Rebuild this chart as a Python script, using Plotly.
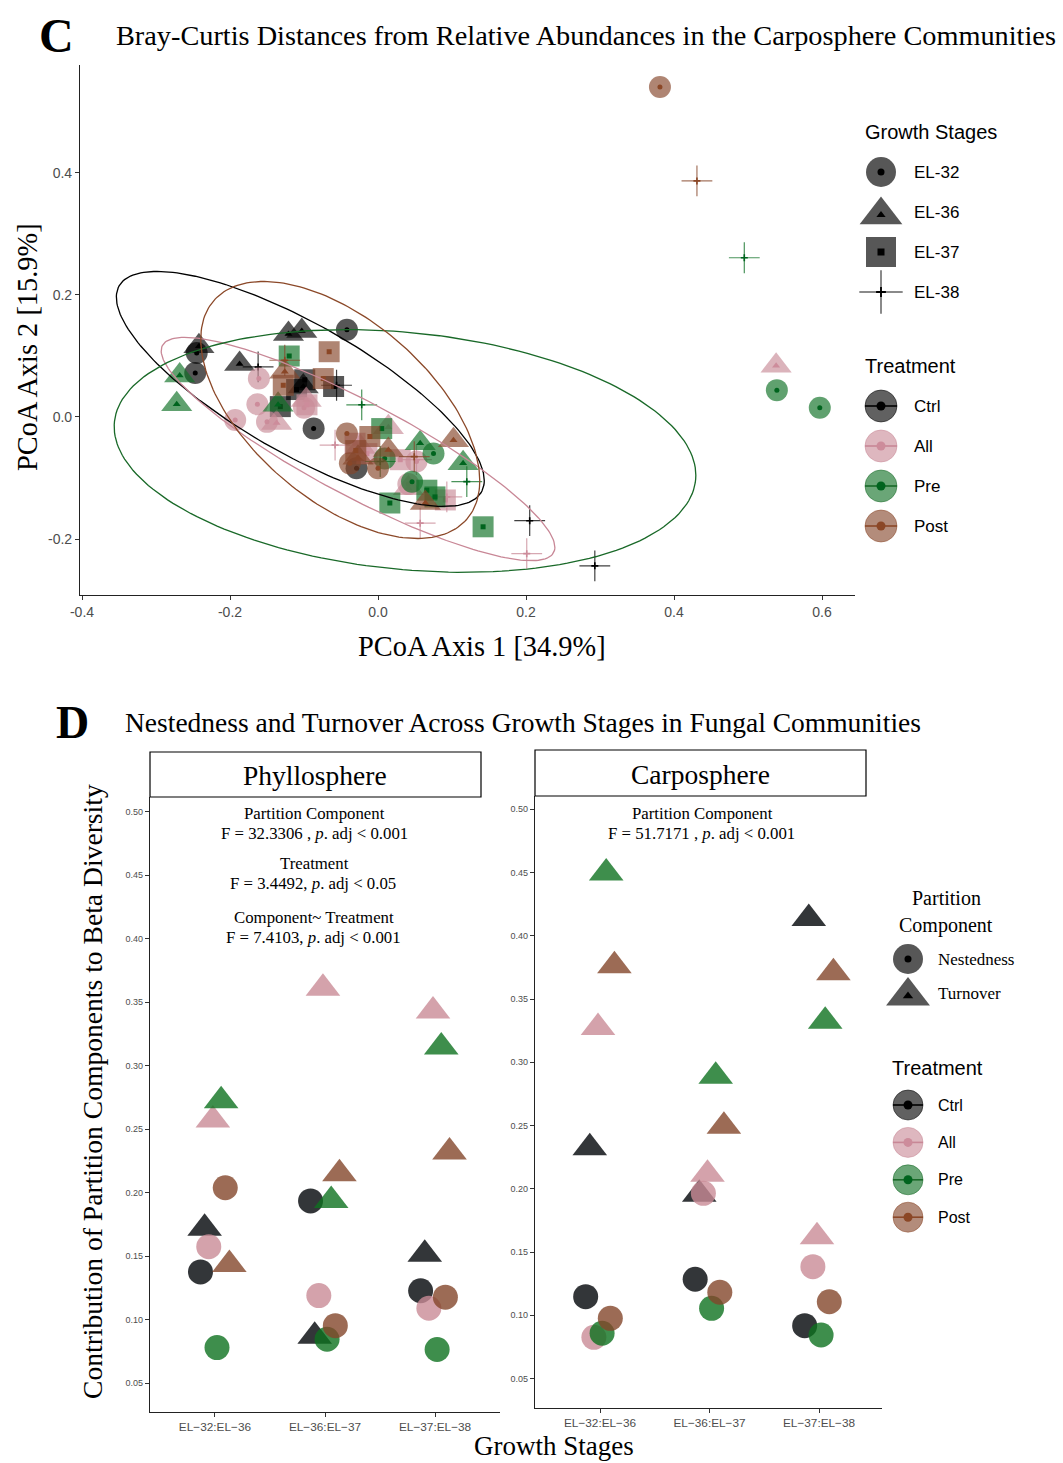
import numpy as np
import plotly.graph_objects as go

W, H = 1063, 1463
SERIF = "Liberation Serif, Times New Roman, serif"
SANS = "Liberation Sans, Arial, Helvetica, sans-serif"

treatments = ["Ctrl", "All", "Pre", "Post"]
stages = ["EL-32", "EL-36", "EL-37", "EL-38"]

# ---------------- Panel C: PCoA scores ----------------
ctrl_stage = ["EL-32"] * 5 + ["EL-36"] * 5 + ["EL-37"] * 4 + ["EL-38"] * 4
ctrl_pc1 = [-0.245, -0.247, -0.042, -0.087, -0.029,
            -0.242, -0.187, -0.121, -0.103, -0.101,
            -0.099, -0.132, -0.060, -0.110,
            -0.162, -0.056, 0.205, 0.293]
ctrl_pc2 = [0.105, 0.072, 0.143, -0.019, -0.084,
            0.116, 0.087, 0.136, 0.141, 0.050,
            0.061, 0.017, 0.050, 0.045,
            0.082, 0.052, -0.170, -0.244]

all_stage = ["EL-32"] * 7 + ["EL-36"] * 6 + ["EL-37"] * 5 + ["EL-38"] * 5
all_pc1 = [-0.161, -0.163, -0.193, -0.150, 0.052, -0.100, 0.041,
           0.538, -0.097, -0.137, 0.014, -0.024, 0.041,
           -0.096, -0.031, 0.030, 0.091, -0.015,
           -0.058, 0.052, 0.093, 0.057, 0.201]
all_pc2 = [0.063, 0.021, -0.005, -0.008, -0.073, 0.015, -0.110,
           0.084, 0.028, -0.010, -0.017, -0.049, -0.117,
           0.020, -0.043, -0.070, -0.136, -0.060,
           -0.046, -0.070, -0.131, -0.174, -0.224]

pre_stage = ["EL-32"] * 5 + ["EL-36"] * 5 + ["EL-37"] * 6 + ["EL-38"] * 4
pre_pc1 = [0.539, 0.597, 0.009, 0.075, 0.046,
           -0.268, -0.272, -0.135, 0.057, 0.115,
           -0.120, 0.005, 0.066, 0.077, 0.016, 0.142,
           0.495, -0.022, 0.003, 0.120]
pre_pc2 = [0.044, 0.015, -0.068, -0.060, -0.106,
           0.068, 0.021, 0.020, -0.043, -0.076,
           0.100, -0.019, -0.120, -0.131, -0.141, -0.180,
           0.261, 0.020, -0.073, -0.106]

post_stage = ["EL-32"] * 4 + ["EL-36"] * 5 + ["EL-37"] * 5 + ["EL-38"] * 3
post_pc1 = [0.381, -0.042, -0.038, 0.000,
            -0.126, -0.027, 0.014, 0.102, 0.064,
            -0.066, -0.128, -0.074, -0.011, -0.030,
            0.431, -0.126, 0.049]
post_pc2 = [0.541, -0.027, -0.076, -0.084,
            0.074, -0.067, -0.054, -0.038, -0.141,
            0.107, 0.052, 0.063, -0.032, -0.055,
            0.387, 0.093, -0.065]

# 95% ellipse parameters per treatment (Ctrl, All, Pre, Post)
ell_cx = [-0.105, -0.027, 0.0365, -0.051]
ell_cy = [0.046, -0.0525, -0.0557, 0.0115]
ell_sx = [0.2486, 0.266, 0.393, 0.1885]
ell_sy = [0.1926, 0.183, 0.199, 0.2107]
ell_rho = [-0.78, -0.88, -0.20, -0.55]

pc_xticks = [-0.4, -0.2, 0.0, 0.2, 0.4, 0.6]
pc_yticks = [-0.2, 0.0, 0.2, 0.4]

# ---------------- Panel D: partition components ----------------
comparisons = ["EL\u221232:EL\u221236", "EL\u221236:EL\u221237", "EL\u221237:EL\u221238"]
components = ["Nestedness", "Turnover"]

phy_nest_ctrl = [0.1376, 0.1935, 0.1228]
phy_nest_all = [0.1575, 0.119, 0.109]
phy_nest_pre = [0.078, 0.0846, 0.0765]
phy_nest_post = [0.2039, 0.0953, 0.1177]
phy_turn_ctrl = [0.172, 0.087, 0.1515]
phy_turn_all = [0.2572, 0.361, 0.343]
phy_turn_pre = [0.2725, 0.1938, 0.3147]
phy_turn_post = [0.1434, 0.215, 0.232]

car_nest_ctrl = [0.1147, 0.1285, 0.0918]
car_nest_all = [0.0826, 0.1964, 0.1384]
car_nest_pre = [0.0858, 0.1055, 0.0844]
car_nest_post = [0.0976, 0.1182, 0.1107]
car_turn_ctrl = [0.2325, 0.1957, 0.4136]
car_turn_all = [0.3274, 0.2115, 0.162]
car_turn_pre = [0.4497, 0.289, 0.3325]
car_turn_post = [0.3763, 0.2495, 0.3707]

d_yticks = [0.05, 0.10, 0.15, 0.20, 0.25, 0.30, 0.35, 0.40, 0.45, 0.50]

# ---------------- styles ----------------
base_rgb = {"Ctrl": (0, 0, 0), "All": (201, 139, 152), "Pre": (14, 112, 36), "Post": (133, 70, 42)}
dot_rgb = {"Ctrl": (0, 0, 0), "All": (205, 140, 155), "Pre": (0, 100, 30), "Post": (139, 71, 38)}
ell_rgb = {"Ctrl": (0, 0, 0), "All": (200, 135, 150), "Pre": (25, 105, 40), "Post": (139, 72, 40)}


def rgba(c, a):
    return "rgba(%d,%d,%d,%.3f)" % (c[0], c[1], c[2], a)


stage_sym = {"EL-32": "circle", "EL-36": "triangle-up", "EL-37": "square", "EL-38": "cross-thin"}
stage_size = {"EL-32": 22, "EL-36": 27, "EL-37": 21, "EL-38": 22}
stage_dot = {"EL-32": 5, "EL-36": 7, "EL-37": 5, "EL-38": 5}

fig = go.Figure()

top_data = {
    "Ctrl": (ctrl_pc1, ctrl_pc2, ctrl_stage),
    "All": (all_pc1, all_pc2, all_stage),
    "Pre": (pre_pc1, pre_pc2, pre_stage),
    "Post": (post_pc1, post_pc2, post_stage),
}

for t in treatments:
    xs, ys, st = top_data[t]
    for s in stages:
        idx = [i for i, v in enumerate(st) if v == s]
        if not idx:
            continue
        px = [xs[i] for i in idx]
        py = [ys[i] for i in idx]
        a = 0.66
        if s == "EL-38":
            mk = dict(symbol="cross-thin", size=stage_size[s],
                      line=dict(color=rgba(base_rgb[t], 0.75), width=1.2))
            mk2 = dict(symbol="cross-thin", size=5, line=dict(color=rgba(dot_rgb[t], 1), width=1.6))
        else:
            mk = dict(symbol=stage_sym[s], size=stage_size[s], color=rgba(base_rgb[t], a), line=dict(width=0))
            mk2 = dict(symbol=stage_sym[s], size=stage_dot[s], color=rgba(dot_rgb[t], 1), line=dict(width=0))
        fig.add_trace(go.Scatter(x=px, y=py, mode="markers", marker=mk, xaxis="x", yaxis="y",
                                 showlegend=False, hoverinfo="skip"))
        fig.add_trace(go.Scatter(x=px, y=py, mode="markers", marker=mk2, xaxis="x", yaxis="y",
                                 showlegend=False, hoverinfo="skip"))

tt = np.linspace(0, 2 * np.pi, 200)
for k, t in enumerate(treatments):
    ex = ell_cx[k] + ell_sx[k] * np.cos(tt)
    ey = ell_cy[k] + ell_sy[k] * (ell_rho[k] * np.cos(tt) + np.sqrt(1 - ell_rho[k] ** 2) * np.sin(tt))
    fig.add_trace(go.Scatter(x=ex, y=ey, mode="lines", line=dict(color=rgba(ell_rgb[t], 1), width=1.3),
                             xaxis="x", yaxis="y", showlegend=False, hoverinfo="skip"))

# ---------------- panel D traces ----------------
d_color = {"Ctrl": (0, 4, 8), "All": (201, 139, 150), "Pre": (14, 114, 31), "Post": (131, 70, 42)}
panels = [
    ("x2", "y2", {"Nestedness": [phy_nest_ctrl, phy_nest_all, phy_nest_pre, phy_nest_post],
                  "Turnover": [phy_turn_ctrl, phy_turn_all, phy_turn_pre, phy_turn_post]}),
    ("x3", "y3", {"Nestedness": [car_nest_ctrl, car_nest_all, car_nest_pre, car_nest_post],
                  "Turnover": [car_turn_ctrl, car_turn_all, car_turn_pre, car_turn_post]}),
]
dodge = 0.0375
for xa, ya, vals in panels:
    for ti, t in enumerate(treatments):
        for ci, comp in enumerate(components):
            g = ti * 2 + ci
            xs = [j + 1 + (g - 3.5) * dodge for j in range(len(comparisons))]
            sym = "circle" if comp == "Nestedness" else "triangle-up"
            size = 25 if comp == "Nestedness" else 30
            fig.add_trace(go.Scatter(x=xs, y=vals[comp][ti], mode="markers", xaxis=xa, yaxis=ya,
                                     marker=dict(symbol=sym, size=size, color=rgba(d_color[t], 0.8),
                                                 line=dict(width=0)),
                                     showlegend=False, hoverinfo="skip"))

# ---------------- legend keys (overlay pixel axis) ----------------
def key_marker(x, y, sym, size, color, line=None):
    mk = dict(symbol=sym, size=size, color=color, line=line or dict(width=0))
    fig.add_trace(go.Scatter(x=[x], y=[y], mode="markers", marker=mk, xaxis="x4", yaxis="y4",
                             showlegend=False, hoverinfo="skip"))


def key_line(x0, x1, y, color, width):
    fig.add_trace(go.Scatter(x=[x0, x1], y=[y, y], mode="lines", line=dict(color=color, width=width),
                             xaxis="x4", yaxis="y4", showlegend=False, hoverinfo="skip"))


annots = []


def text(x, y, s, size, font=SANS, color="black", xanchor="left", angle=0, yanchor="middle"):
    annots.append(dict(x=x, y=y, xref="x4", yref="y4", text=s, showarrow=False, xanchor=xanchor,
                       yanchor=yanchor, textangle=angle, font=dict(family=font, size=size, color=color)))


gray_key = rgba((0, 0, 0), 0.66)
# top legend: growth stages
kx, y0, dy = 881, 172, 40
text(863, 132, "Growth Stages", 20)
key_sizes = {"EL-32": 30, "EL-36": 37, "EL-37": 30, "EL-38": 31}
for i, s in enumerate(stages):
    yy = y0 + i * dy
    if s == "EL-38":
        key_marker(kx, yy, "cross-thin", key_sizes[s], None, dict(color="rgba(60,60,60,0.8)", width=1.5))
        key_marker(kx, yy, "cross-thin", 7, None, dict(color="black", width=1.8))
    else:
        key_marker(kx, yy + (3 if s == "EL-36" else 0), stage_sym[s], key_sizes[s], gray_key)
        key_marker(kx, yy + (3 if s == "EL-36" else 0), stage_sym[s], 8 if s == "EL-36" else 7, "black")
    text(912, yy, s, 17)

# top legend: treatment
y1 = 406
text(863, 366, "Treatment", 20)
for i, t in enumerate(treatments):
    yy = y1 + i * dy
    key_marker(kx, yy, "circle", 32, rgba(base_rgb[t], 0.62), dict(color=rgba(ell_rgb[t], 0.5), width=1))
    key_line(kx - 16, kx + 16, yy, rgba(ell_rgb[t], 1), 1.6)
    key_marker(kx, yy, "circle", 9, rgba(dot_rgb[t], 1))
    text(912, yy, t, 17)

# bottom legend: partition component
bkx = 908
text(946, 898, "Partition", 20, SERIF, xanchor="center")
text(946, 925, "Component", 20, SERIF, xanchor="center")
for i, c in enumerate(components):
    yy = 959 + i * 34
    sym = "circle" if c == "Nestedness" else "triangle-up"
    key_marker(bkx, yy + (3 if c == "Turnover" else 0), sym, 30 if c == "Nestedness" else 38, gray_key)
    key_marker(bkx, yy + (3 if c == "Turnover" else 0), sym, 7 if c == "Nestedness" else 9, "black")
    text(936, yy, c, 17, SERIF)

text(890, 1068, "Treatment", 20)
for i, t in enumerate(treatments):
    yy = 1105 + i * 37.4
    key_marker(bkx, yy, "circle", 30, rgba(base_rgb[t], 0.62), dict(color=rgba(ell_rgb[t], 0.5), width=1))
    key_line(bkx - 15, bkx + 15, yy, rgba(ell_rgb[t], 1), 1.6)
    key_marker(bkx, yy, "circle", 9, rgba(dot_rgb[t], 1))
    text(936, yy, t, 16)

# titles & axis labels
text(56, 35, "<b>C</b>", 48, SERIF, xanchor="center")
text(114, 35, "Bray-Curtis Distances from Relative Abundances in the Carposphere Communities", 28.3, SERIF)
text(482, 646, "PCoA Axis 1 [34.9%]", 28.4, SERIF, xanchor="center")
text(27, 347, "PCoA Axis 2 [15.9%]", 28.4, SERIF, xanchor="center", angle=-90)

text(72, 722, "<b>D</b>", 46, SERIF, xanchor="center")
text(123, 722, "Nestedness and Turnover Across Growth Stages in Fungal Communities", 27.5, SERIF)
text(92, 1092, "Contribution of Partition Components to Beta Diversity", 27.6, SERIF, xanchor="center", angle=-90)
text(554, 1446, "Growth Stages", 27, SERIF, xanchor="center")

# strips
shapes = [
    dict(type="rect", xref="x4", yref="y4", x0=150, x1=481, y0=752, y1=797, line=dict(color="black", width=1.2)),
    dict(type="rect", xref="x4", yref="y4", x0=535, x1=866, y0=750, y1=796, line=dict(color="black", width=1.2)),
]
text(315, 775, "Phyllosphere", 27.5, SERIF, xanchor="center")
text(700, 774, "Carposphere", 27.5, SERIF, xanchor="center")

# statistics text
text(314, 813, "Partition Component", 16.8, SERIF, xanchor="center")
text(314, 833, "F = 32.3306 , <i>p</i>. adj &lt; 0.001", 16.8, SERIF, xanchor="center")
text(314, 863, "Treatment", 16.8, SERIF, xanchor="center")
text(313, 883, "F = 3.4492, <i>p</i>. adj &lt; 0.05", 16.8, SERIF, xanchor="center")
text(314, 917, "Component~ Treatment", 16.8, SERIF, xanchor="center")
text(313, 937, "F = 7.4103, <i>p</i>. adj &lt; 0.001", 16.8, SERIF, xanchor="center")
text(702, 813, "Partition Component", 16.8, SERIF, xanchor="center")
text(701, 833, "F = 51.7171 , <i>p</i>. adj &lt; 0.001", 16.8, SERIF, xanchor="center")

# ---------------- axes ----------------
def dom_x(a, b):
    return [a / W, b / W]


def dom_y(top, bottom):
    return [1 - bottom / H, 1 - top / H]


axis_common = dict(showgrid=False, zeroline=False, showline=True, linecolor="#222", linewidth=1.1,
                   ticks="outside", tickcolor="#333", ticklen=4, tickwidth=1, automargin=False)

fig.update_layout(
    width=W, height=H, margin=dict(l=0, r=0, t=0, b=0, pad=0), autosize=False,
    paper_bgcolor="white", plot_bgcolor="rgba(0,0,0,0)",
    xaxis=dict(domain=dom_x(80, 855), range=[-0.4027, 0.6446], anchor="y",
               tickvals=pc_xticks, ticktext=["%.1f" % v for v in pc_xticks],
               tickfont=dict(family=SANS, size=14, color="#4d4d4d"), **axis_common),
    yaxis=dict(domain=dom_y(65, 595), range=[-0.2918, 0.577], anchor="x",
               tickvals=pc_yticks, ticktext=["%.1f" % v for v in pc_yticks],
               tickfont=dict(family=SANS, size=14, color="#4d4d4d"), **axis_common),
    xaxis2=dict(domain=dom_x(150, 500), range=[0.41, 3.59], anchor="y2",
                tickvals=[1, 2, 3], ticktext=comparisons,
                tickfont=dict(family=SANS, size=11.8, color="#4d4d4d"), **axis_common),
    yaxis2=dict(domain=dom_y(797, 1412), range=[0.0273, 0.5116], anchor="x2",
                tickvals=d_yticks, ticktext=["%.2f" % v for v in d_yticks],
                tickfont=dict(family=SANS, size=9, color="#4d4d4d"), **axis_common),
    xaxis3=dict(domain=dom_x(535, 882), range=[0.406, 3.575], anchor="y3",
                tickvals=[1, 2, 3], ticktext=comparisons,
                tickfont=dict(family=SANS, size=11.8, color="#4d4d4d"), **axis_common),
    yaxis3=dict(domain=dom_y(796, 1408), range=[0.0267, 0.5105], anchor="x3",
                tickvals=d_yticks, ticktext=["%.2f" % v for v in d_yticks],
                tickfont=dict(family=SANS, size=9, color="#4d4d4d"), **axis_common),
    xaxis4=dict(domain=[0, 1], range=[0, W], visible=False, anchor="y4", fixedrange=True),
    yaxis4=dict(domain=[0, 1], range=[H, 0], visible=False, anchor="x4", fixedrange=True),
    annotations=annots,
    shapes=shapes,
    showlegend=False,
)

fig.write_html("out.html", config={"displayModeBar": False},
               post_script="document.body.style.margin='0';document.body.style.overflow='hidden';")
